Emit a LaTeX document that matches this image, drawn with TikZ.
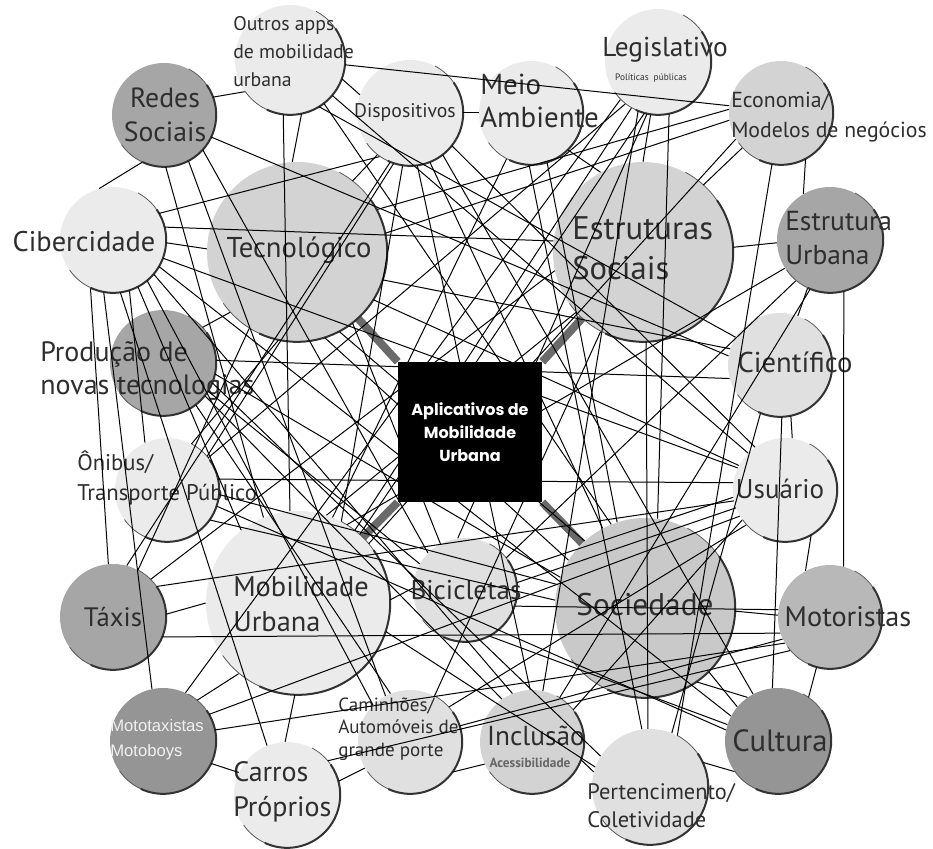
\documentclass[tikz,border=0pt]{standalone}
\usepackage{fontspec}
\setmainfont{PT Sans}
\newfontfamily\appfont{Poppins}
\newfontfamily\arialfont{Liberation Sans}
\usetikzlibrary{backgrounds}
\definecolor{gA}{HTML}{EBEBEB}
\definecolor{gB}{HTML}{E0E0E0}
\definecolor{gC}{HTML}{D3D3D3}
\definecolor{gD}{HTML}{C9C9C9}
\definecolor{gE}{HTML}{B8B8B8}
\definecolor{gF}{HTML}{A6A6A6}
\definecolor{gG}{HTML}{959595}
\definecolor{ink}{HTML}{2E2E2E}
\definecolor{spokegray}{HTML}{6A6A6A}
\newcommand{\fsz}[2]{\fontsize{#1}{#2}\selectfont}
\tikzset{
  bub/.style={circle, inner sep=0pt, minimum size=#1*0.75pt},
  rimthin/.style={draw=black!65, line width=0.6pt},
  rimthick/.style={draw=black!80, line width=1.5pt},
  txt/.style={text=ink, inner sep=0pt, align=center},
  link/.style={line width=0.75pt},
  spoke/.style={line width=6pt, draw=spokegray}
}
\begin{document}
\begin{tikzpicture}[x=0.75pt,y=-0.75pt]
\useasboundingbox (0,0) rectangle (933,849);
% bubbles
\foreach \n/\x/\y/\rad/\col in {disp/410/113/53/gA, outros/290/60/55/gA, redes/164/115/52/gF,
    ciber/113/240/53/gA, tec/297/252/90/gC, prod/163/363/53/gF, meio/531/113/52/gA,
    legis/658/62/53/gA, econ/781/113/52/gC, estsoc/643/252/90/gC, esturb/830/240/53/gF,
    cient/780/365/52/gB, onibus/167/490/52/gA, usuario/785/490/52/gA, taxis/113/617/53/gF,
    mob/298/603/92/gA, bici/465/590/52/gB, soc/645/608/90/gD, motor/830/617/52/gE,
    moto/163/741/53/gG, carros/287/795/53/gA, caminhoes/410/742/52/gB, inclusao/532/742/52/gC,
    pert/650/787/58/gB, cultura/778/741/53/gG}
{
  \node[bub=2*\rad, fill=\col] (\n) at (\x,\y) {};
  \pgfmathsetmacro\rr{\rad*0.75}
  \draw[rimthin] (\n.62) arc[start angle=62, end angle=-145, radius=\rr pt];
  \draw[rimthick] (\n.35) arc[start angle=35, end angle=-115, radius=\rr pt];
}
% labels
\node[txt, anchor=west, align=left, font=\fsz{14.8}{21}] (toutros) at (233,52) {Outros apps\\de mobilidade\\urbana};
\node[txt, font=\fsz{20.8}{25.5}] (tredes) at (165,115) {Redes\\Sociais};
\node[txt, font=\fsz{14.8}{18}] (tdisp) at (405,112) {Dispositivos};
\node[txt, anchor=west, align=left, font=\fsz{21.7}{25}] (tmeio) at (480,101) {Meio\\Ambiente};
\node[txt, font=\fsz{20.5}{22}] (tlegis) at (665,50) {Legislativo};
\node[txt, font=\fsz{7}{8}] (tpolit) at (651,78) {Políticas\ \ públicas};
\node[txt, anchor=west, align=left, font=\fsz{16.3}{23}] (tecon) at (731,117) {Economia/\\Modelos de negócios};
\node[txt, font=\fsz{21.3}{24}] (tciber) at (84,242) {Cibercidade};
\node[txt, font=\fsz{21.5}{24}] (ttec) at (299,250) {Tecnológico};
\node[txt, anchor=west, align=left, font=\fsz{24.5}{30}] (testsoc) at (572,248) {Estruturas\\Sociais};
\node[txt, anchor=west, align=left, font=\fsz{20.6}{26}] (testurb) at (785,238) {Estrutura\\Urbana};
\node[txt, anchor=west, align=left, font=\fsz{21}{25}] (tprod) at (40,371) {Produção de\\novas tecnologias};
\node[txt, font=\fsz{21.5}{24}] (tcient) at (795,362) {Científico};
\node[txt, anchor=west, align=left, font=\fsz{17}{23}] (tonibus) at (77,478) {Ônibus/\\Transporte Público};
\node[txt, font=\fsz{20.3}{22}] (tusuario) at (780,489) {Usuário};
\node[txt, font=\fsz{20}{22}] (ttaxis) at (113,617) {Táxis};
\node[txt, anchor=west, align=left, font=\fsz{21.3}{26}] (tmob) at (233,604) {Mobilidade\\Urbana};
\node[txt, font=\fsz{20.4}{22}] (tbici) at (466,590) {Bicicletas};
\node[txt, font=\fsz{23.5}{25}] (tsoc) at (645,605) {Sociedade};
\node[txt, font=\fsz{21.2}{23}] (tmotor) at (848,617) {Motoristas};
\node[txt, anchor=west, align=left, text=gray!12, font=\arialfont\fsz{12.5}{19}] (tmoto) at (110,740) {Mototaxistas\\Motoboys};
\node[txt, anchor=west, align=left, font=\fsz{14.3}{17}] (tcamin) at (338,729) {Caminhões/\\Automóveis de\\grande porte};
\node[txt, font=\fsz{20.5}{22}] (tinclu) at (536,736) {Inclusão};
\node[txt, text=black!60, font=\fsz{10}{11}\bfseries] (tacess) at (530,763) {Acessibilidade};
\node[txt, font=\fsz{23}{24}] (tcult) at (780,741) {Cultura};
\node[txt, anchor=west, align=left, font=\fsz{16.8}{21}] (tpert) at (587,806) {Pertencimento/\\Coletividade};
\node[txt, anchor=west, align=left, font=\fsz{21}{26}] (tcarros) at (233,792) {Carros\\Próprios};
% links
\foreach \a/\b in {outros.-145/redes.20, outros.-20/disp.160, outros.-5/econ.172, outros.-97/mob.95, outros.-78/tec.93,
    disp.0/meio.180, ciber.30/disp.-125, ciber.105/redes.-115, ciber.-3/tec.178, ciber.14/estsoc.173,
    tec.52/disp.-128, tec.-138/prod.42, meio.-45/estsoc.118, legis.-98/estsoc.90, econ.-138/estsoc.48,
    econ.-62/esturb.120, estsoc.3/esturb.183, esturb.-115/cient.70, esturb.-75/motor.75, cient.-78/usuario.82,
    usuario.-60/motor.118, soc.-2/motor.178, motor.-105/cultura.55, cultura.-145/pert.25, soc.-45/cultura.140,
    soc.-55/cultura.125, inclusao.-20/pert.165, caminhoes.-35/inclusao.-155, carros.15/caminhoes.-150, carros.155/moto.-25,
    carros.92/mob.-92, moto.50/mob.-130, taxis.3/mob.180, taxis.-22/motor.-162, taxis.35/usuario.-168,
    mob.2/bici.178, moto.30/usuario.-150, moto.12/motor.-150, carros.40/motor.-140, prod.3/cient.-165,
    onibus.12/usuario.172, ciber.-115/taxis.95, ciber.-100/moto.102, ciber.-82/carros.112, ciber.-62/mob.128,
    ciber.-72/onibus.115, legis.-78/soc.82, estsoc.-88/pert.92, legis.-112/inclusao.78, econ.-100/pert.62,
    meio.-72/soc.108, meio.-118/mob.68, legis.-128/onibus.38, legis.-120/mob.52, econ.176/tec.28,
    econ.-172/tec.12, tec.-18/cient.162, esturb.-148/mob.58, esturb.-112/inclusao.58, esturb.-130/bici.38,
    cient.-112/pert.68, cient.-88/cultura.96, inclusao.38/usuario.-145, redes.-88/mob.112, redes.-62/caminhoes.118,
    redes.-42/bici.135, outros.-58/cient.148, outros.-40/usuario.135, disp.-98/mob.62, disp.-68/soc.118,
    disp.-38/usuario.125, tec.-32/usuario.152, tec.-62/soc.132, prod.-32/bici.150, prod.-12/soc.160,
    prod.-52/caminhoes.112, taxis.62/tec.-122, taxis.45/estsoc.-168, onibus.62/tec.-102, onibus.40/disp.-108,
    mob.72/estsoc.-138, mob.48/legis.-105, mob.40/econ.-150, bici.118/tec.-52, bici.98/legis.-102,
    bici.22/usuario.-172, bici.8/usuario.-160, bici.-18/motor.172, bici.-62/cultura.162, caminhoes.62/estsoc.-118,
    caminhoes.42/usuario.-138, caminhoes.18/motor.-155, caminhoes.135/ciber.-50, inclusao.112/ciber.-40, inclusao.125/prod.-38,
    inclusao.92/disp.-82, mob.-18/pert.160, prod.-22/pert.148, pert.98/meio.-92, cultura.152/ciber.-30,
    cultura.168/onibus.-18, cultura.118/disp.-52, soc.148/tec.-72, soc.112/outros.-52, soc.165/onibus.-5,
    ciber.-20/usuario.155, redes.-25/cient.170, onibus.-35/soc.175, taxis.75/disp.-112, moto.65/legis.-135}
  \draw[link] (\a) -- (\b);
% central square
\node[fill=black, minimum width=108pt, minimum height=105pt, inner sep=0pt,
      text=white, align=center, font=\appfont\bfseries\fsz{12}{17}] (app) at (470,432)
      {Aplicativos de\\Mobilidade\\Urbana};
\begin{scope}[on background layer]
  \draw[spoke] (app.north west) -- (tec);
  \draw[spoke] (app.north east) -- (estsoc);
  \draw[spoke] (app.south west) -- (mob);
  \draw[spoke] (app.south east) -- (soc);
\end{scope}
\end{tikzpicture}
\end{document}
